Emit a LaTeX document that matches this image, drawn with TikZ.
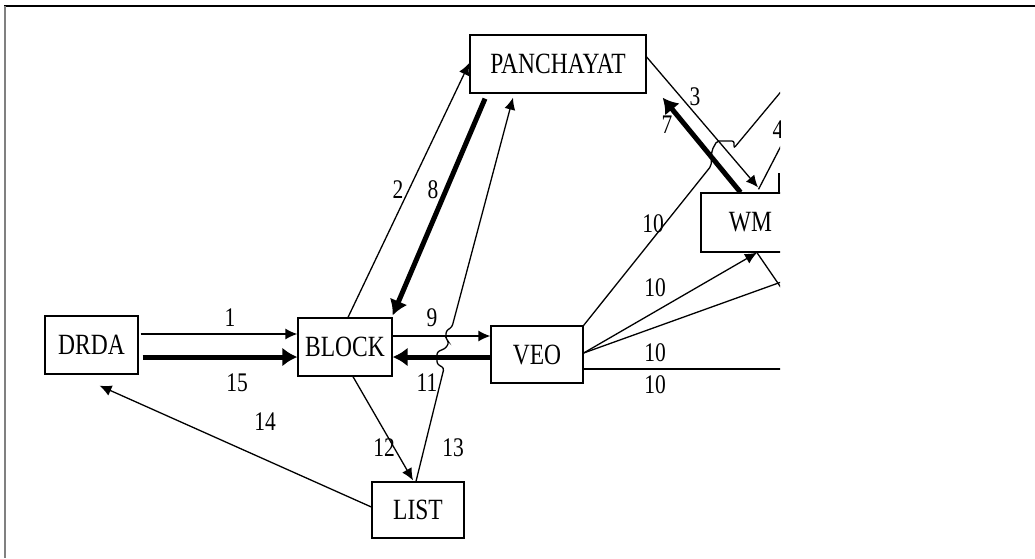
\documentclass[tikz,border=0pt]{standalone}
\usepackage{fontspec}
\setmainfont{Liberation Serif}
\usetikzlibrary{arrows.meta}
\newcommand{\bt}[1]{\scalebox{1}[1.25]{#1}}
\begin{document}
\begin{tikzpicture}[x=1pt,y=-1pt,
  box/.style={draw, line width=1.3pt, inner sep=0pt, font=\fontsize{23.5}{27}\selectfont},
  thinarrow/.style={line width=1.3pt, -{Latex[length=12pt,width=11pt]}},
  thinline/.style={line width=1.3pt},
  thickarrow/.style={line width=5pt, -{Latex[length=15pt,width=19pt]}},
  lbl/.style={font=\fontsize{21.5}{25}\selectfont, inner sep=0pt}]
\useasboundingbox (0,0) rectangle (1035,558);
\draw[line width=2pt] (4,6) -- (1035,6);
\draw[line width=2pt, gray] (5,6) -- (5,558);
\begin{scope}
\clip (0,0) rectangle (780,558);
% nodes
\node[box, minimum width=176pt, minimum height=58pt] (P) at (558,64) {\bt{PANCHAYAT}};
\node[box, minimum width=93pt, minimum height=58pt] (D) at (91.5,345) {\bt{DRDA}};
\node[box, minimum width=94pt, minimum height=58pt] (B) at (345,347) {\bt{BLOCK}};
\node[box, minimum width=92pt, minimum height=57pt] (V) at (537,354.5) {\bt{VEO}};
\node[box, minimum width=92pt, minimum height=56pt] (L) at (418,510) {\bt{LIST}};
\node[box, minimum width=99pt, minimum height=59pt] (W) at (750.5,222.5) {\bt{WM}};
% off-picture ends
\coordinate (e4) at (784,140);
\coordinate (e10a) at (784,88);
\coordinate (e10c) at (784,281);
\coordinate (e10d) at (784,369);
\coordinate (eW) at (784,292);
% connectors
\draw[thinarrow, shorten <=2pt] ([yshift=11pt]D.east) -- ([yshift=13pt]B.west);
\draw[thickarrow, shorten <=4pt] ([yshift=-12pt]D.east) -- ([yshift=-10pt]B.west);
\draw[thinarrow] ([yshift=11pt]B.east) -- ([yshift=18.5pt]V.west);
\draw[thickarrow] ([yshift=-2.5pt]V.west) -- ([yshift=-10pt]B.east);
\draw[thinarrow] ([xshift=3pt]B.north) -- ([yshift=1pt]P.west);
\draw[thickarrow] ([xshift=-73pt,yshift=-5pt]P.south) -- ([yshift=2pt]B.north east);
\draw[thinarrow] ([xshift=8pt]B.south) -- ([xshift=-5pt,yshift=1pt]L.north);
\draw[thinarrow] ([yshift=3pt]L.west) -- ([xshift=8pt,yshift=-11pt]D.south);
\draw[thinarrow, rounded corners=2.5pt] ([xshift=-2pt]L.north) -- (444,368) -- (437,364) -- (437,352) -- (446,348) -- (449,342) -- (446,339) -- (446,331) -- (452,327) -- ([xshift=-45pt,yshift=-4pt]P.south);
\draw[thinarrow] ([yshift=7pt]P.east) -- ([xshift=7.5pt,yshift=5pt]W.north);
\draw[thickarrow] ([xshift=-10pt]W.north) -- ([xshift=16pt,yshift=-4pt]P.south east);
\draw[thinline] ([xshift=8pt,yshift=3pt]W.north) -- (e4);
\draw[line width=2pt] (779,173) -- (779,193);
\draw[thinline, rounded corners=2pt] (V.north east) -- (711,166) -- (712,150) -- (717,141) -- (734,141) -- (734,148) -- (e10a);
\draw[thinarrow] ([yshift=1.5pt]V.east) -- ([xshift=6.5pt]W.south);
\draw[thinline] ([yshift=1.5pt]V.east) -- (e10c);
\draw[thinline] ([xshift=6.5pt]W.south) -- (eW);
\draw[thinline] ([yshift=-14.5pt]V.east) -- (e10d);
% labels
\node[lbl] (l1) at (230,318) {\bt{1}};
\node[lbl] (l15) at (237,383) {\bt{15}};
\node[lbl] (l9) at (432,318) {\bt{9}};
\node[lbl] (l11) at (427,383) {\bt{11}};
\node[lbl] (l2) at (398,190) {\bt{2}};
\node[lbl] (l8) at (433,190) {\bt{8}};
\node[lbl] (l12) at (384,448) {\bt{12}};
\node[lbl] (l13) at (453,448) {\bt{13}};
\node[lbl] (l14) at (265,422) {\bt{14}};
\node[lbl] (l3) at (695,97) {\bt{3}};
\node[lbl] (l7) at (667,125) {\bt{7}};
\node[lbl] (l4) at (778,130) {\bt{4}};
\node[lbl] (l10a) at (653,224) {\bt{10}};
\node[lbl] (l10b) at (655,288) {\bt{10}};
\node[lbl] (l10c) at (655,353) {\bt{10}};
\node[lbl] (l10d) at (655,385) {\bt{10}};
\end{scope}
\end{tikzpicture}
\end{document}
